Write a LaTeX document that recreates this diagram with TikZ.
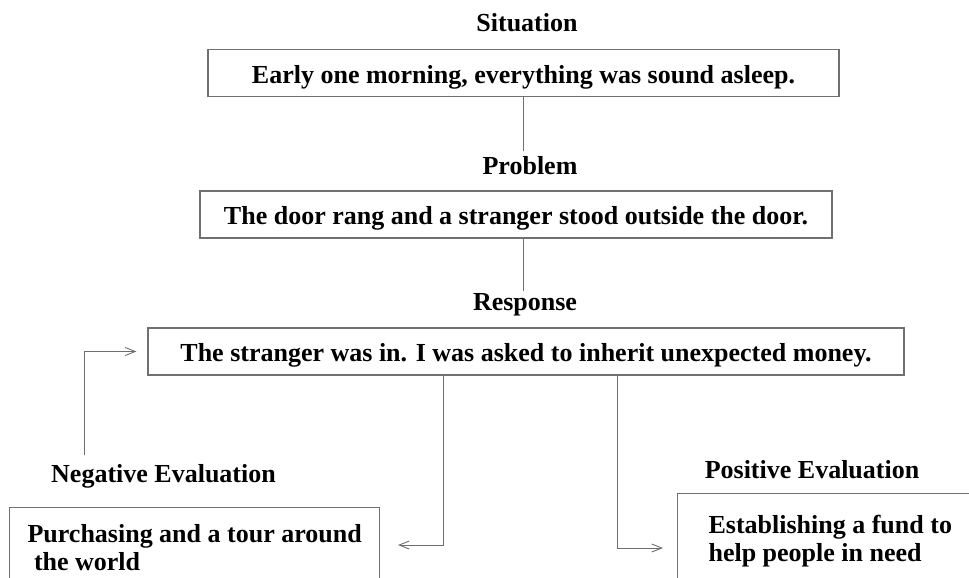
\documentclass[tikz,border=0pt]{standalone}
\usepackage{fontspec}
\setmainfont{Liberation Serif}
\usepackage{xcolor}
\usetikzlibrary{arrows.meta}
\definecolor{framecolor}{HTML}{707070}
\definecolor{linkcolor}{HTML}{6E6E6E}
\tikzstyle{storybox} = [
    draw=framecolor,
    line width=1.1pt,
    rectangle,
    inner sep=0pt,
    font=\fontsize{26}{28}\selectfont\bfseries,
    text height=23pt,
    text depth=3pt,
    minimum height=47pt
    ]
\tikzstyle{evalbox} = [
    draw=framecolor,
    line width=1.1pt,
    rectangle,
    anchor=north west,
    align=flush left,
    font=\fontsize{26}{28}\selectfont\bfseries
    ]
\tikzstyle{steptitle} = [
    font=\fontsize{26}{28}\selectfont\bfseries,
    anchor=base,
    inner sep=0pt
    ]
\tikzstyle{link} = [
    draw=linkcolor,
    line width=0.9pt
    ]
\tikzstyle{linkarrow} = [
    link,
    -{Straight Barb[length=10pt,width=8pt]}
    ]

\begin{document}
\begin{tikzpicture}[x=1pt,y=-1pt]
\useasboundingbox (0,0) rectangle (969,578);
\clip (0,0) rectangle (969,578);

\node[steptitle] (sittitle) at (527,32) {Situation};
\node[storybox, minimum width=631pt] (sit) at (523.5,73) {Early one morning, everything was sound asleep.};

\node[steptitle] (probtitle) at (530,174) {Problem};
\node[storybox, minimum width=632pt] (prob) at (516,214.5) {The door rang and a stranger stood outside the door.};

\node[steptitle] (resptitle) at (525,310) {Response};
\node[storybox, minimum width=756pt] (resp) at (526,351.5) {The stranger was in. I was asked to inherit unexpected money.};

\node[steptitle] (negtitle) at (163.5,482) {Negative Evaluation};
\node[evalbox, inner xsep=18pt, inner ysep=16.5pt] (neg) at (9,507) {Purchasing and a tour around\\\ the world};

\node[steptitle] (postitle) at (812,478) {Positive Evaluation};
\node[evalbox, inner xsep=31pt, inner ysep=21.5pt] (pos) at (677,493) {Establishing a fund to\\help people in need};

% connectors
\coordinate (probgap) at (523.5,151);
\coordinate (respgap) at (523,291);
\coordinate (loopstart) at (84,455);
\coordinate (negtip) at (398,545);
\coordinate (postip) at (663,548);

\draw[link] (sit.south) -- (probgap);
\draw[link] (prob.south -| respgap) -- (respgap);
\draw[linkarrow] (loopstart) |- ([xshift=-11pt]resp.west);
\draw[linkarrow] ([xshift=-83pt]resp.south) |- (negtip);
\draw[linkarrow] ([xshift=91pt]resp.south) |- (postip);
\end{tikzpicture}
\end{document}
